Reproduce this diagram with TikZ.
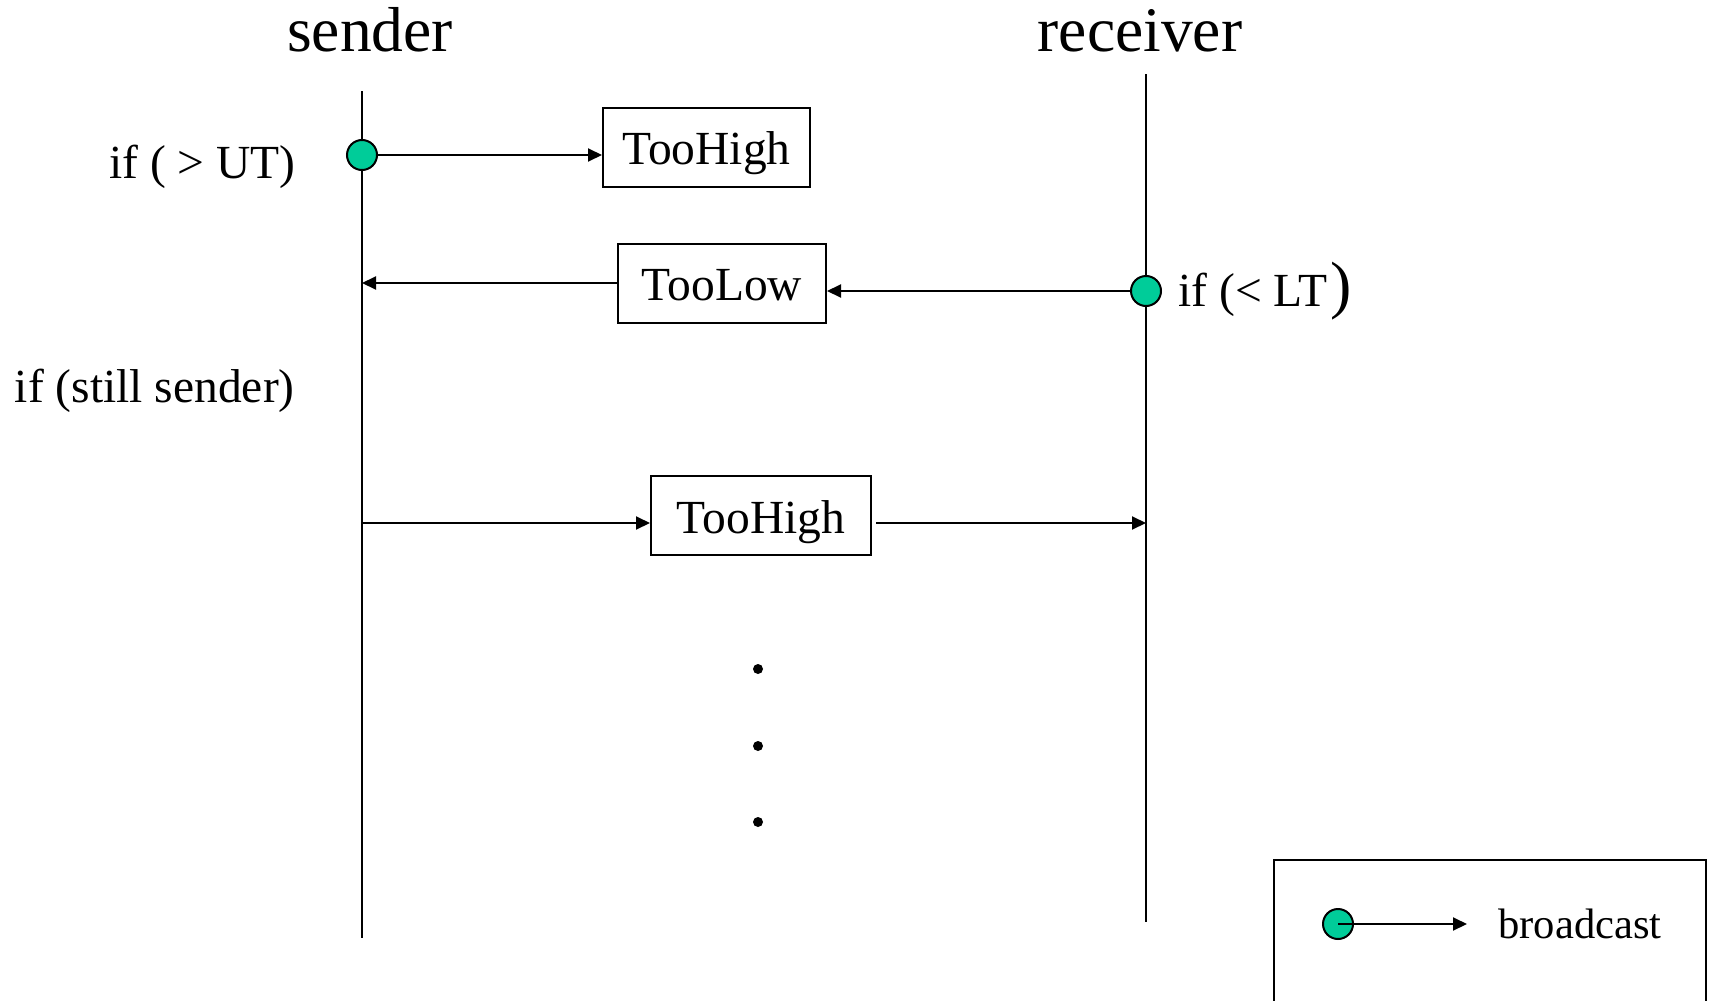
\documentclass[tikz,border=0pt]{standalone}
\usepackage{fontspec}
\setmainfont{Liberation Serif}
\usetikzlibrary{arrows.meta}
\definecolor{bgreen}{RGB}{0,204,153}
\tikzset{
  lifeline/.style={line width=1pt},
  arr/.style={line width=1pt,-{Triangle[length=7pt,width=6.5pt]}},
  msgbox/.style={draw,line width=1pt,inner sep=0pt,text height=28.5pt,text depth=11pt,
    font=\fontsize{23.75pt}{28pt}\selectfont},
  bcast/.style={circle,draw,line width=1pt,fill=bgreen,inner sep=0pt,minimum size=15pt},
  dotnode/.style={circle,fill=black,inner sep=0pt,minimum size=5pt},
  title/.style={anchor=base,inner sep=0pt,font=\fontsize{31.75pt}{38pt}\selectfont},
  cond/.style={inner sep=0pt,font=\fontsize{23.75pt}{28pt}\selectfont},
}
\begin{document}
\begin{tikzpicture}[x=0.5pt,y=-0.5pt]
\useasboundingbox (0,0) rectangle (1715,1001);
\clip (0,0) rectangle (1715,1001);

% lifeline headings
\node[title] (sname) at (370,51) {sender};
\node[title] (rname) at (1140,51) {receiver};

% lifelines
\coordinate (sTop) at (362,91);
\coordinate (sBot) at (362,938);
\coordinate (rTop) at (1146,74);
\coordinate (rBot) at (1146,922);
\draw[lifeline] (sTop) -- (sBot);
\draw[lifeline] (rTop) -- (rBot);

% sender broadcasts TooHigh
\node[msgbox,minimum width=103.5pt] (t1) at (706.5,147) {TooHigh};
\node[bcast] (c1) at (362,155) {};
\draw[arr] (c1.east) -- (c1 -| t1.west);
\node[cond,anchor=base east] (u1) at (296,178) {if ( > UT)};

% receiver broadcasts TooLow
\node[msgbox,minimum width=104pt] (t2) at (722,283) {TooLow};
\draw[arr] (t2.west) -- (t2.west -| sTop);
\node[bcast] (c2) at (1146,291) {};
\draw[arr] (c2.west) -- (c2 -| t2.east);
\node[cond,anchor=base west] (l1) at (1178,306) {if (< LT\kern1.5pt{\fontsize{32pt}{36pt}\selectfont)}};

% sender re-sends TooHigh
\node[cond,anchor=base east] (st) at (295,402) {if (still sender)};
\node[msgbox,minimum width=110pt] (t3) at (761,515.5) {TooHigh};
\coordinate (s3) at (362,523);
\coordinate (r3) at (1146,523);
\draw[arr] (s3) -- (s3 -| t3.west);
\draw[arr] ([xshift=2pt]r3 -| t3.east) -- (r3);

% continuation dots
\node[dotnode] (d1) at (758,669) {};
\node[dotnode] (d2) at (758,746) {};
\node[dotnode] (d3) at (758,822) {};

% legend
\draw[line width=1pt] (1274,860) rectangle (1706,1060);
\node[bcast] (lc) at (1338,924) {};
\coordinate (la) at (1467,924);
\draw[arr] (lc.center) -- (la);
\node[cond,anchor=base west,font=\fontsize{21.3pt}{26pt}\selectfont] (lt) at (1498,938) {broadcast};
\end{tikzpicture}
\end{document}
